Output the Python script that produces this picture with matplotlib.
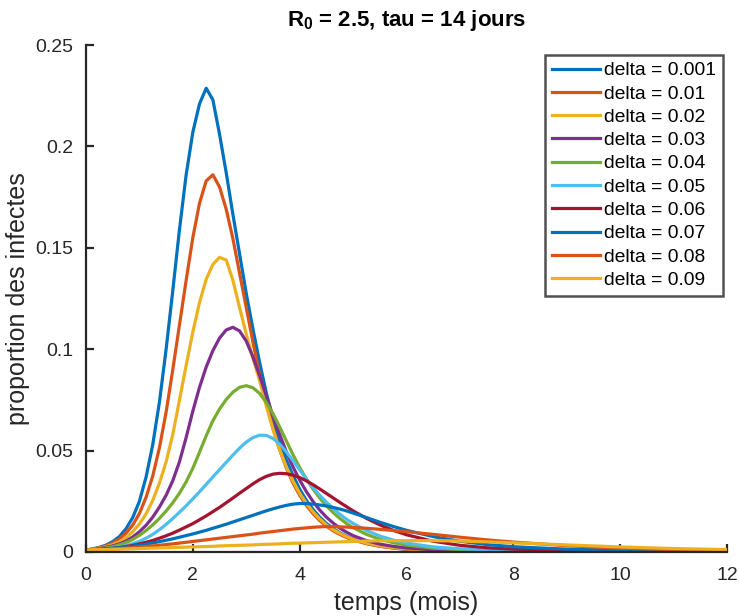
import matplotlib
matplotlib.use("Agg")
import matplotlib.pyplot as plt
from matplotlib import font_manager

# ---------------- data ----------------
temps_mois = [0, 0.125, 0.25, 0.375, 0.5, 0.625, 0.75, 0.875,
              1, 1.125, 1.25, 1.375, 1.5, 1.625, 1.75, 1.875,
              2, 2.125, 2.25, 2.375, 2.5, 2.625, 2.75, 2.875,
              3, 3.125, 3.25, 3.375, 3.5, 3.625, 3.75, 3.875,
              4, 4.125, 4.25, 4.375, 4.5, 4.625, 4.75, 4.875,
              5, 5.25, 5.5, 5.75, 6, 6.5, 7, 7.5, 8, 9, 10, 11, 12]

delta_labels = ["delta = 0.001", "delta = 0.01", "delta = 0.02", "delta = 0.03",
                "delta = 0.04", "delta = 0.05", "delta = 0.06", "delta = 0.07",
                "delta = 0.08", "delta = 0.09"]

I_0001 = [0.0010, 0.0015, 0.0023, 0.0034, 0.0051, 0.0076, 0.0115, 0.0170,
          0.0250, 0.0370, 0.0530, 0.0740, 0.1000, 0.1290, 0.1590, 0.1860,
          0.2070, 0.2210, 0.2287, 0.2230, 0.2060, 0.1870, 0.1665, 0.1470,
          0.1275, 0.1100, 0.0935, 0.0785, 0.0655, 0.0545, 0.0455, 0.0378,
          0.0310, 0.0255, 0.0210, 0.0172, 0.0141, 0.0116, 0.0095, 0.0078,
          0.0064, 0.0043, 0.0029, 0.0020, 0.0013, 0.0006, 0.0003, 0.0002,
          0.0001, 0.0001, 0.0001, 0.0001, 0.0001]
I_001 = [0.0010, 0.0014, 0.0021, 0.0030, 0.0044, 0.0064, 0.0093, 0.0133,
         0.0190, 0.0270, 0.0375, 0.0515, 0.0690, 0.0900, 0.1120, 0.1340,
         0.1550, 0.1720, 0.1830, 0.1860, 0.1800, 0.1690, 0.1545, 0.1375,
         0.1205, 0.1035, 0.0875, 0.0735, 0.0610, 0.0505, 0.0415, 0.0340,
         0.0280, 0.0230, 0.0189, 0.0155, 0.0128, 0.0105, 0.0087, 0.0072,
         0.0059, 0.0041, 0.0028, 0.0020, 0.0014, 0.0008, 0.0005, 0.0004,
         0.0003, 0.0002, 0.0002, 0.0002, 0.0002]
I_002 = [0.0010, 0.0014, 0.0019, 0.0026, 0.0036, 0.0050, 0.0071, 0.0100,
         0.0138, 0.0188, 0.0255, 0.0340, 0.0445, 0.0580, 0.0750, 0.0920,
         0.1085, 0.1230, 0.1345, 0.1418, 0.1453, 0.1440, 0.1340, 0.1205,
         0.1075, 0.0955, 0.0845, 0.0720, 0.0605, 0.0505, 0.0420, 0.0350,
         0.0290, 0.0240, 0.0198, 0.0163, 0.0134, 0.0111, 0.0092, 0.0076,
         0.0063, 0.0044, 0.0031, 0.0022, 0.0016, 0.0009, 0.0006, 0.0005,
         0.0004, 0.0003, 0.0003, 0.0003, 0.0003]
I_003 = [0.0010, 0.0013, 0.0017, 0.0023, 0.0030, 0.0040, 0.0054, 0.0074,
         0.0100, 0.0132, 0.0172, 0.0222, 0.0280, 0.0352, 0.0445, 0.0565,
         0.0695, 0.0812, 0.0912, 0.0993, 0.1055, 0.1095, 0.1108, 0.1090,
         0.1040, 0.0962, 0.0870, 0.0770, 0.0670, 0.0580, 0.0495, 0.0420,
         0.0355, 0.0298, 0.0249, 0.0207, 0.0172, 0.0143, 0.0118, 0.0098,
         0.0081, 0.0056, 0.0039, 0.0028, 0.0020, 0.0011, 0.0008, 0.0006,
         0.0005, 0.0004, 0.0004, 0.0004, 0.0004]
I_004 = [0.0010, 0.0012, 0.0015, 0.0020, 0.0026, 0.0035, 0.0046, 0.0062,
         0.0082, 0.0106, 0.0134, 0.0166, 0.0202, 0.0243, 0.0290, 0.0346,
         0.0413, 0.0492, 0.0573, 0.0647, 0.0705, 0.0752, 0.0788, 0.0812,
         0.0820, 0.0810, 0.0782, 0.0738, 0.0682, 0.0617, 0.0548, 0.0480,
         0.0417, 0.0360, 0.0310, 0.0266, 0.0228, 0.0195, 0.0166, 0.0141,
         0.0120, 0.0087, 0.0063, 0.0046, 0.0034, 0.0019, 0.0012, 0.0009,
         0.0007, 0.0006, 0.0005, 0.0005, 0.0005]
I_005 = [0.0010, 0.0011, 0.0013, 0.0016, 0.0020, 0.0025, 0.0032, 0.0041,
         0.0053, 0.0068, 0.0087, 0.0110, 0.0136, 0.0165, 0.0196, 0.0228,
         0.0262, 0.0297, 0.0333, 0.0370, 0.0406, 0.0442, 0.0478, 0.0512,
         0.0542, 0.0564, 0.0576, 0.0575, 0.0560, 0.0532, 0.0494, 0.0450,
         0.0405, 0.0360, 0.0318, 0.0280, 0.0246, 0.0215, 0.0187, 0.0162,
         0.0141, 0.0106, 0.0079, 0.0059, 0.0044, 0.0025, 0.0016, 0.0011,
         0.0009, 0.0007, 0.0006, 0.0006, 0.0006]
I_006 = [0.0010, 0.0011, 0.0013, 0.0015, 0.0018, 0.0022, 0.0027, 0.0033,
         0.0040, 0.0048, 0.0057, 0.0068, 0.0080, 0.0093, 0.0108, 0.0124,
         0.0140, 0.0159, 0.0178, 0.0199, 0.0220, 0.0243, 0.0266, 0.0290,
         0.0313, 0.0336, 0.0357, 0.0373, 0.0384, 0.0388, 0.0386, 0.0379,
         0.0367, 0.0351, 0.0332, 0.0311, 0.0289, 0.0267, 0.0245, 0.0224,
         0.0203, 0.0166, 0.0134, 0.0107, 0.0085, 0.0053, 0.0033, 0.0021,
         0.0014, 0.0008, 0.0006, 0.0005, 0.0005]
I_007 = [0.0010, 0.0011, 0.0013, 0.0015, 0.0018, 0.0021, 0.0025, 0.0029,
         0.0034, 0.0039, 0.0045, 0.0051, 0.0058, 0.0065, 0.0073, 0.0081,
         0.0089, 0.0098, 0.0107, 0.0117, 0.0127, 0.0137, 0.0148, 0.0159,
         0.0170, 0.0181, 0.0192, 0.0203, 0.0213, 0.0222, 0.0230, 0.0236,
         0.0239, 0.0239, 0.0236, 0.0232, 0.0227, 0.0220, 0.0212, 0.0203,
         0.0192, 0.0170, 0.0147, 0.0126, 0.0107, 0.0076, 0.0053, 0.0037,
         0.0026, 0.0014, 0.0009, 0.0007, 0.0006]
I_008 = [0.0010, 0.0011, 0.0012, 0.0013, 0.0015, 0.0017, 0.0019, 0.0021,
         0.0024, 0.0027, 0.0030, 0.0033, 0.0037, 0.0040, 0.0044, 0.0048,
         0.0052, 0.0056, 0.0060, 0.0064, 0.0068, 0.0072, 0.0076, 0.0080,
         0.0084, 0.0088, 0.0093, 0.0097, 0.0101, 0.0105, 0.0109, 0.0113,
         0.0116, 0.0119, 0.0122, 0.0124, 0.0125, 0.0125, 0.0124, 0.0123,
         0.0121, 0.0117, 0.0112, 0.0106, 0.0100, 0.0087, 0.0073, 0.0060,
         0.0049, 0.0031, 0.0019, 0.0012, 0.0008]
I_009 = [0.0010, 0.0011, 0.00115, 0.0012, 0.0013, 0.0014, 0.0015, 0.0016,
         0.0017, 0.0018, 0.0019, 0.0020, 0.0021, 0.0022, 0.0023, 0.0024,
         0.0025, 0.0026, 0.0027, 0.0028, 0.0030, 0.0031, 0.0032, 0.0033,
         0.0034, 0.0035, 0.0037, 0.0038, 0.0039, 0.0040, 0.0042, 0.0043,
         0.0044, 0.0045, 0.0046, 0.0047, 0.0048, 0.0049, 0.0050, 0.0051,
         0.0052, 0.0054, 0.0055, 0.0056, 0.0056, 0.0056, 0.0054, 0.0050,
         0.0045, 0.0035, 0.0025, 0.0017, 0.0012]

series = [I_0001, I_001, I_002, I_003, I_004, I_005, I_006, I_007, I_008, I_009]

x_ticks = [0, 2, 4, 6, 8, 10, 12]
y_ticks = [0, 0.05, 0.1, 0.15, 0.2, 0.25]
y_tick_labels = ["0", "0.05", "0.1", "0.15", "0.2", "0.25"]

# ---------------- style ----------------
colors = ["#0072BD", "#D95319", "#EDB120", "#7E2F8E", "#77AC30",
          "#4DBEEE", "#A2142F", "#0072BD", "#D95319", "#EDB120"]

plt.rcParams['font.family'] = ['Liberation Sans', 'DejaVu Sans']

avail = {f.name for f in font_manager.fontManager.ttflist}
title_family = ['Liberation Sans Narrow', 'Liberation Sans', 'DejaVu Sans'] \
    if 'Liberation Sans Narrow' in avail else ['Liberation Sans', 'DejaVu Sans']

fig = plt.figure(figsize=(7.39, 6.16), dpi=100)
ax = fig.add_axes([86 / 739, 1 - 552 / 616, (727 - 86) / 739, (552 - 45) / 616])

for ys, c, lab in zip(series, colors, delta_labels):
    ax.plot(temps_mois, ys, color=c, lw=2.3, label=lab)

ax.set_xlim(0, 12)
ax.set_ylim(0, 0.25)
ax.set_xticks(x_ticks)
ax.set_yticks(y_ticks)
ax.set_yticklabels(y_tick_labels)

for s in ['top', 'right']:
    ax.spines[s].set_visible(False)
for s in ['left', 'bottom']:
    ax.spines[s].set_color('#262626')
    ax.spines[s].set_linewidth(1.6)
ax.tick_params(direction='in', length=6, width=1.6, colors='#262626',
               labelcolor='#262626', labelsize=14, pad=9)
ax.tick_params(axis='x', pad=11)

ax.set_xlabel("temps (mois)", fontsize=18, color='#262626', labelpad=5)
ax.set_ylabel("proportion des infectes", fontsize=18, color='#262626', labelpad=4)
ax.set_title(r"R$_\mathregular{0}$ = 2.5, tau = 14 jours", fontsize=16,
             fontweight='bold', family=title_family, pad=14)

leg = ax.legend(loc='upper right', bbox_to_anchor=((723 - 86) / 641, (552 - 55) / 507),
                fontsize=13.9, frameon=True, fancybox=False, handlelength=2.5,
                handletextpad=0.2, labelspacing=0.3, borderpad=0.35,
                borderaxespad=0)
leg.get_frame().set_edgecolor('#262626')
leg.get_frame().set_linewidth(1.8)

fig.savefig("out.png", dpi=100)
